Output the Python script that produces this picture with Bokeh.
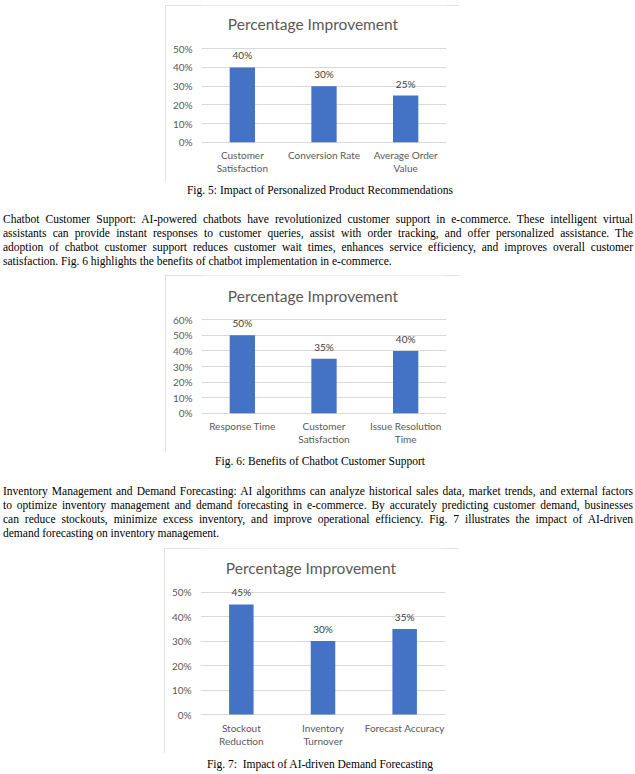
from bokeh.plotting import figure
from bokeh.layouts import column
from bokeh.models import ColumnDataSource, Div, NumeralTickFormatter
from bokeh.core.properties import value
from bokeh.embed import file_html
from bokeh.resources import INLINE

# Fig. 5 data
fig5_categories = ["Customer Satisfaction", "Conversion Rate", "Average Order Value"]
fig5_tick_labels = ["Customer\nSatisfaction", "Conversion Rate", "Average Order\nValue"]
fig5_values = [0.40, 0.30, 0.25]
fig5_y_ticks = [0, 0.1, 0.2, 0.3, 0.4, 0.5]

# Fig. 6 data
fig6_categories = ["Response Time", "Customer Satisfaction", "Issue Resolution Time"]
fig6_tick_labels = ["Response Time", "Customer\nSatisfaction", "Issue Resolution\nTime"]
fig6_values = [0.50, 0.35, 0.40]
fig6_y_ticks = [0, 0.1, 0.2, 0.3, 0.4, 0.5, 0.6]

# Fig. 7 data
fig7_categories = ["Stockout Reduction", "Inventory Turnover", "Forecast Accuracy"]
fig7_tick_labels = ["Stockout\nReduction", "Inventory\nTurnover", "Forecast Accuracy"]
fig7_values = [0.45, 0.30, 0.35]
fig7_y_ticks = [0, 0.1, 0.2, 0.3, 0.4, 0.5]

chart_title = "Percentage Improvement"

captions = [
    "Fig. 5: Impact of Personalized Product Recommendations",
    "Fig. 6: Benefits of Chatbot Customer Support",
    "Fig. 7:  Impact of AI-driven Demand Forecasting",
]

para_chatbot = [
    "Chatbot Customer Support: AI-powered chatbots have revolutionized customer support in e-commerce. These intelligent virtual",
    "assistants can provide instant responses to customer queries, assist with order tracking, and offer personalized assistance. The",
    "adoption of chatbot customer support reduces customer wait times, enhances service efficiency, and improves overall customer",
    "satisfaction. Fig. 6 highlights the benefits of chatbot implementation in e-commerce.",
]
para_inventory = [
    "Inventory Management and Demand Forecasting: AI algorithms can analyze historical sales data, market trends, and external factors",
    "to optimize inventory management and demand forecasting in e-commerce. By accurately predicting customer demand, businesses",
    "can reduce stockouts, minimize excess inventory, and improve operational efficiency. Fig. 7 illustrates the impact of AI-driven",
    "demand forecasting on inventory management.",
]

GREY = "#595959"
GRID = "#d9d9d9"
FONT = "Lato"


def bar_chart(categories, tick_labels, values, y_ticks, width, height,
              left, right, top_px, zero_px, title_px, bar_width, margin):
    # frame fills the whole box height; the y range is stretched so that
    # 0% sits at zero_px and the top tick at top_px (pixels from the top)
    ymax = y_ticks[-1]
    scale = (zero_px - top_px) / ymax
    y_start = -(height - zero_px) / scale
    y_end = ymax + top_px / scale
    p = figure(x_range=categories, y_range=(y_start, y_end),
               width=width, height=height, output_backend="svg",
               toolbar_location=None, margin=margin,
               min_border_left=left, min_border_right=right,
               min_border_top=0, min_border_bottom=0)
    src = ColumnDataSource(dict(cat=categories, val=values, tick=tick_labels,
                                lbl=[f"{round(v * 100)}%" for v in values]))
    p.vbar(x="cat", top="val", width=bar_width, source=src,
           fill_color="#4472C4", line_color=None)
    p.text(x="cat", y="val", text="lbl", source=src, text_align="center",
           text_baseline="bottom", y_offset=-6, text_font=value(FONT),
           text_font_size="10px", text_color="#404040")
    # category labels under the 0% line
    p.text(x="cat", y=0, text="tick", source=src, text_align="center",
           text_baseline="top", y_offset=7, text_font=value(FONT),
           text_font_size="10px", text_color=GREY, text_line_height=1.1)
    # chart title, centred on the box rather than on the plot area
    box_shift = width / 2 - (left + (width - left - right) / 2)
    p.text(x=[len(categories) / 2], y=[y_end], text=[chart_title],
           x_offset=box_shift, y_offset=title_px, text_align="center",
           text_baseline="middle", text_font=value(FONT),
           text_font_size="15.5px", text_color=GREY)

    p.outline_line_color = None
    p.styles = {"outline": f"1px solid {GRID}", "outline-offset": "-1px"}
    p.xaxis.visible = False
    p.xgrid.grid_line_color = None
    p.ygrid.grid_line_color = GRID
    p.yaxis.ticker = y_ticks
    p.yaxis.formatter = NumeralTickFormatter(format="0%")
    p.yaxis.axis_line_color = None
    p.yaxis.major_tick_line_color = None
    p.yaxis.minor_tick_line_color = None
    p.yaxis.major_tick_out = 0
    p.yaxis.major_tick_in = 0
    p.yaxis.major_label_standoff = 9
    p.yaxis.major_label_text_font = FONT
    p.yaxis.major_label_text_font_size = "10px"
    p.yaxis.major_label_text_color = GREY
    return p


def caption(text, height, margin):
    html = ('<div style="font-family:\'Liberation Serif\';font-size:11.5px;'
            f'line-height:{height}px;text-align:center;white-space:pre;'
            f'color:#000;width:630px">{text}</div>')
    return Div(text=html, width=630, height=height, margin=margin)


def paragraph(lines, margin):
    rows = []
    for i, line in enumerate(lines):
        if i == len(lines) - 1:
            align = "text-align:left"
        else:
            align = "text-align:justify;text-align-last:justify"
        rows.append(f'<div style="{align}">{line}</div>')
    html = ('<div style="font-family:\'Liberation Serif\';font-size:11.5px;'
            'line-height:14px;color:#000;width:630px">' + "".join(rows) + "</div>")
    return Div(text=html, width=630, height=56, margin=margin)


p5 = bar_chart(fig5_categories, fig5_tick_labels, fig5_values, fig5_y_ticks,
               294, 177, 35, 13, 43.3, 136.7, 18.5, 0.31, (5, 0, 0, 165))
p6 = bar_chart(fig6_categories, fig6_tick_labels, fig6_values, fig6_y_ticks,
               294, 177, 35, 13, 44.3, 137.7, 20, 0.31, (7, 0, 0, 165))
p7 = bar_chart(fig7_categories, fig7_tick_labels, fig7_values, fig7_y_ticks,
               294, 205, 36, 12, 43.7, 166, 19.5, 0.30, (8, 0, 0, 164))

page = column(
    p5,
    caption(captions[0], 15, (0, 0, 0, 5)),
    paragraph(para_chatbot, (15, 0, 0, 3)),
    p6,
    caption(captions[1], 16, (1, 0, 0, 5)),
    paragraph(para_inventory, (15, 0, 0, 3)),
    p7,
    caption(captions[2], 16, (3, 0, 0, 5)),
    spacing=0,
)

open("out.html", "w").write(file_html(page, INLINE))
